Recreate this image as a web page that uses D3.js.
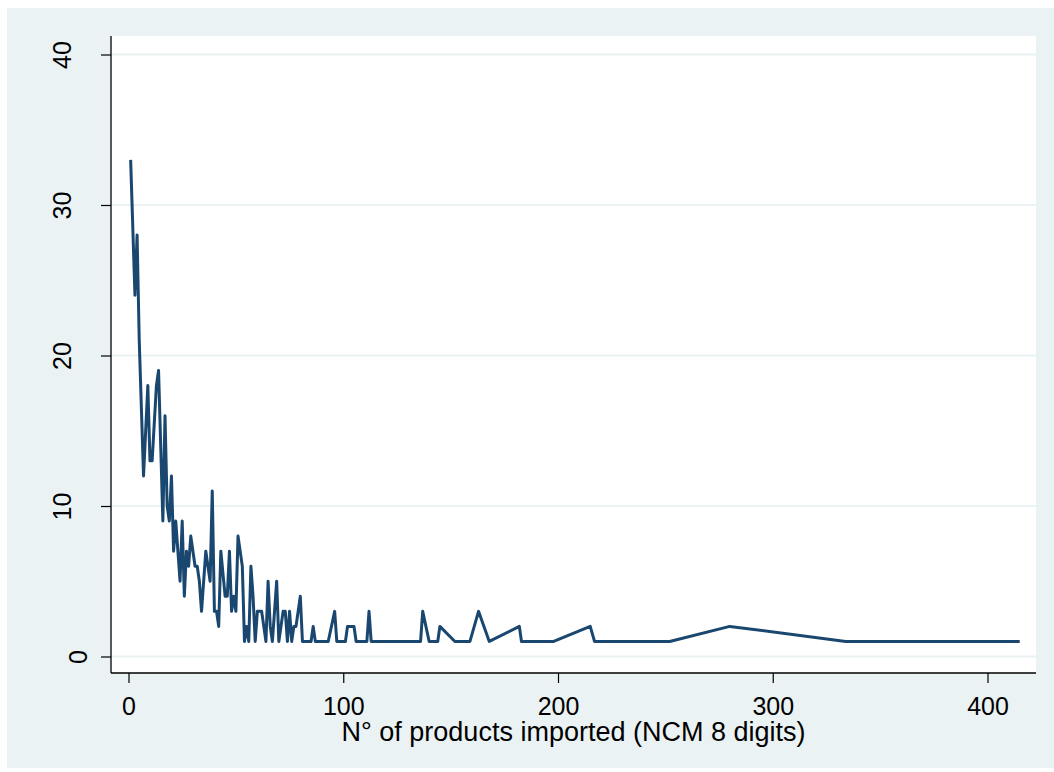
<!DOCTYPE html>
<html>
<head>
<meta charset="utf-8">
<script src="https://cdn.jsdelivr.net/npm/d3@7"></script>
<style>
  html, body { margin: 0; padding: 0; background: #ffffff; }
  svg { display: block; }
  text { font-family: "Liberation Sans", Arial, Helvetica, sans-serif; }
</style>
</head>
<body>
<svg id="chart" width="1054" height="772"></svg>
<script>
// Number of products imported (NCM 8 digits) per firm
const nProducts = [1, 3, 4, 5, 7, 9, 10, 11, 13, 14, 16, 17, 18, 19, 20, 21, 22, 24, 25, 26,
  27, 28, 29, 31, 32, 33, 34, 36, 38, 39, 40, 41, 42, 43, 45, 46, 47, 48, 49, 50,
  51, 53, 54, 55, 56, 57, 58, 59, 60, 62, 64, 65, 66, 67, 69, 70, 72, 73, 74, 75,
  76, 77, 78, 80, 81, 85, 86, 87, 93, 96, 97, 101, 102, 105, 106, 111, 112, 113, 136, 137,
  140, 144, 145, 152, 159, 163, 168, 182, 183, 198, 215, 217, 252, 280, 334, 415];
// Number of firms with that many products
const nFirms = [33, 24, 28, 21, 12, 18, 13, 13, 18, 19, 9, 16, 10, 9, 12, 7, 9, 5, 9, 4,
  7, 6, 8, 6, 6, 5, 3, 7, 5, 11, 3, 3, 2, 7, 4, 4, 7, 3, 4, 3,
  8, 6, 1, 2, 1, 6, 4, 1, 3, 3, 1, 5, 2, 1, 5, 1, 3, 3, 1, 3,
  1, 2, 2, 4, 1, 1, 2, 1, 1, 3, 1, 1, 2, 2, 1, 1, 3, 1, 1, 3,
  1, 1, 2, 1, 1, 3, 1, 2, 1, 1, 2, 1, 1, 2, 1, 1];

const xTicks = [0, 100, 200, 300, 400];
const yTicks = [0, 10, 20, 30, 40];
const xTitle = "N\u00b0 of products imported (NCM 8 digits)";

const svg = d3.select("#chart");
const bgColor = "#eaf2f3";
const lineColor = "#1a476f";

// plot region bounds
const plot = { left: 111, right: 1036, top: 36, bottom: 673 };

// outer graph region
svg.append("rect").attr("x", 7).attr("y", 8).attr("width", 1054 - 7).attr("height", 768 - 8)
  .attr("fill", bgColor);
// inner plot region
svg.append("rect").attr("x", plot.left).attr("y", plot.top)
  .attr("width", plot.right - plot.left).attr("height", plot.bottom - plot.top)
  .attr("fill", "#ffffff");

const x = d3.scaleLinear().domain([0, 400]).range([128.5, 987.5]);
const y = d3.scaleLinear().domain([0, 40]).range([656.5, 54.5]);

// horizontal grid lines
svg.append("g").selectAll("line").data(yTicks).join("line")
  .attr("x1", plot.left).attr("x2", plot.right)
  .attr("y1", d => y(d)).attr("y2", d => y(d))
  .attr("stroke", bgColor).attr("stroke-width", 2);

// series line
const points = nProducts.map((p, i) => [p, nFirms[i]]);
svg.append("path")
  .datum(points)
  .attr("fill", "none")
  .attr("stroke", lineColor)
  .attr("stroke-width", 3)
  .attr("stroke-linejoin", "round")
  .attr("d", d3.line().x(d => x(d[0])).y(d => y(d[1])));

// axes
const xAxis = svg.append("g")
  .attr("transform", `translate(0,${plot.bottom})`)
  .call(d3.axisBottom(x).tickValues(xTicks).tickSize(10).tickPadding(14).tickSizeOuter(0));
xAxis.select(".domain").remove();
xAxis.selectAll(".tick line").attr("stroke", "#000").attr("stroke-width", 1.2);
xAxis.selectAll(".tick text").attr("font-size", 25).attr("fill", "#000")
  .attr("font-family", "Liberation Sans, Arial, sans-serif");

const yAxis = svg.append("g")
  .attr("transform", `translate(${plot.left},0)`)
  .call(d3.axisLeft(y).tickValues(yTicks).tickSize(10).tickSizeOuter(0));
yAxis.select(".domain").remove();
yAxis.selectAll(".tick line").attr("stroke", "#000").attr("stroke-width", 1.2);
// vertical labels; the single-digit label sits closer to its tick
yAxis.selectAll(".tick text")
  .attr("font-size", 25).attr("fill", "#000")
  .attr("font-family", "Liberation Sans, Arial, sans-serif")
  .attr("x", null).attr("dy", null)
  .attr("text-anchor", "middle")
  .attr("transform", d => `translate(${String(d).length === 1 ? -24 : -40},0) rotate(-90)`);

// axis lines
svg.append("line").attr("x1", plot.left).attr("x2", plot.left)
  .attr("y1", plot.top).attr("y2", plot.bottom)
  .attr("stroke", "#000").attr("stroke-width", 1.3);
svg.append("line").attr("x1", plot.left).attr("x2", plot.right)
  .attr("y1", plot.bottom).attr("y2", plot.bottom)
  .attr("stroke", "#000").attr("stroke-width", 1.3);

// axis title
svg.append("text")
  .attr("x", (plot.left + plot.right) / 2).attr("y", 741)
  .attr("text-anchor", "middle")
  .attr("font-size", 27).attr("fill", "#000")
  .text(xTitle);
</script>
</body>
</html>
